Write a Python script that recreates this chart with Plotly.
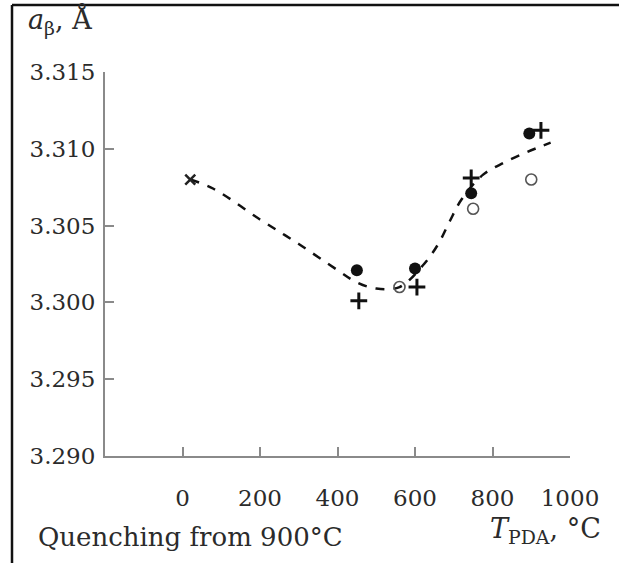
import plotly.graph_objects as go

# Lattice parameter of the beta phase vs. post-deformation annealing temperature
t_as_quenched = [20]
a_as_quenched = [3.308]

t_filled = [450, 600, 745, 895]
a_filled = [3.3021, 3.3022, 3.3071, 3.3110]

t_plus = [455, 605, 745, 925]
a_plus = [3.3001, 3.3010, 3.3081, 3.3112]

t_open = [560, 750, 900]
a_open = [3.3010, 3.3061, 3.3080]

# Guide-to-the-eye curve
t_curve = [20, 80, 200, 300, 400, 450, 500, 560, 620, 660, 690, 720, 775, 830, 890, 950]
a_curve = [3.3080, 3.3074, 3.3054, 3.3038, 3.3021, 3.3013, 3.3009, 3.3010, 3.3024,
           3.3038, 3.3053, 3.3067, 3.3083, 3.3091, 3.3098, 3.3104]

x_ticks = [0, 200, 400, 600, 800, 1000]
y_ticks = [3.290, 3.295, 3.300, 3.305, 3.310, 3.315]

W, H = 619, 563
L, R, T, B = 105, 49, 72, 107
font_family = "DejaVu Serif, serif"
txt_col = "#2b2b2b"

fig = go.Figure()
fig.add_trace(go.Scatter(x=t_curve, y=a_curve, mode="lines", line_shape="spline",
                         line=dict(color="#111", width=2.5, dash="9px,9px")))
fig.add_trace(go.Scatter(x=t_as_quenched, y=a_as_quenched, mode="markers",
                         marker=dict(symbol="x-thin", size=10, color="#222",
                                     line=dict(color="#222", width=2.5))))
fig.add_trace(go.Scatter(x=t_filled, y=a_filled, mode="markers",
                         marker=dict(symbol="circle", size=12, color="#111")))
fig.add_trace(go.Scatter(x=t_plus, y=a_plus, mode="markers",
                         marker=dict(symbol="cross-thin", size=12, color="#111",
                                     line=dict(color="#111", width=3))))
fig.add_trace(go.Scatter(x=t_open, y=a_open, mode="markers",
                         marker=dict(symbol="circle-open", size=11, color="#555",
                                     line=dict(color="#555", width=1.6))))

axis_common = dict(showgrid=False, zeroline=False, showline=True, linecolor="#8a8a8a",
                   linewidth=2, ticks="inside", ticklen=9, tickwidth=1.5,
                   tickcolor="#8a8a8a",
                   tickfont=dict(family=font_family, size=23, color=txt_col))

fig.update_xaxes(range=[-200, 1000], tickvals=x_ticks,
                 ticktext=[str(v) for v in x_ticks], ticklabelstandoff=20, **axis_common)
fig.update_yaxes(range=[3.290, 3.315], tickvals=y_ticks,
                 ticktext=[f"{v:.3f}" for v in y_ticks], ticklabelstandoff=3, **axis_common)

pw, ph = W - L - R, H - T - B


def px(x):
    return (x - L) / pw


def py(y):
    return (H - B - y) / ph


# Figure frame (top and left edges)
fig.add_shape(type="line", xref="paper", yref="paper", x0=px(12), x1=px(W + 2),
              y0=py(5), y1=py(5), line=dict(color="#111", width=2.5))
fig.add_shape(type="line", xref="paper", yref="paper", x0=px(12), x1=px(12),
              y0=py(5), y1=py(H + 2), line=dict(color="#111", width=2.5))

fig.add_annotation(xref="paper", yref="paper", x=px(26), y=py(21), xanchor="left",
                   yanchor="middle", showarrow=False,
                   text="<i>a</i><sub>β</sub>, Å",
                   font=dict(family=font_family, size=27, color=txt_col))
fig.add_annotation(xref="paper", yref="paper", x=px(603), y=py(530), xanchor="right",
                   yanchor="middle", showarrow=False,
                   text="<i>T</i><sub>PDA</sub>, °C",
                   font=dict(family=font_family, size=27, color=txt_col))
fig.add_annotation(xref="paper", yref="paper", x=px(36), y=py(537), xanchor="left",
                   yanchor="middle", showarrow=False,
                   text="Quenching from 900°C",
                   font=dict(family=font_family, size=26, color=txt_col))

fig.update_layout(width=W, height=H, margin=dict(l=L, r=R, t=T, b=B),
                  paper_bgcolor="white", plot_bgcolor="white", showlegend=False)

fig.write_html("out.html")
